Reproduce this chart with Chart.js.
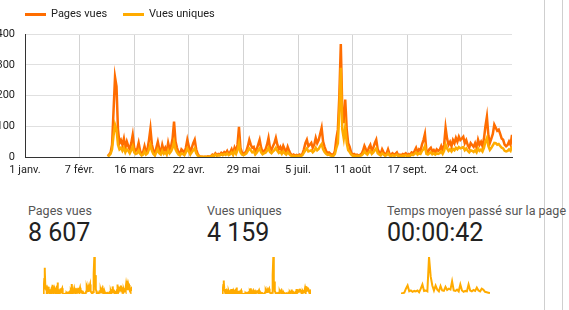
<!DOCTYPE html>
<html lang="fr">
<head>
<meta charset="utf-8">
<script src="https://cdn.jsdelivr.net/npm/chart.js@4.4.1/dist/chart.umd.min.js"></script>
<style>
  body { margin: 0; width: 569px; height: 310px; background: #fff; font-family: Roboto, sans-serif; overflow: hidden; position: relative; }
  .vline { position: absolute; top: 0; width: 1px; height: 310px; background: #cfcfcf; }
  #main { position: absolute; left: -10px; top: 0; width: 532px; height: 185px; }
  .legend { position: absolute; top: 7px; font-size: 11px; color: #212121; line-height: 14px; }
  .legend span.sw { position: absolute; top: 6px; width: 21px; height: 3px; }
  .stat { position: absolute; top: 203px; }
  .stat .lbl { font-size: 12.5px; line-height: 15px; color: #555; white-space: nowrap; }
  .stat .val { font-size: 25px; line-height: 29px; color: #212121; margin-top: 0px; }
  .spark { position: absolute; top: 257px; width: 89px; height: 37px; }
</style>
</head>
<body>
<div class="vline" style="left:544px"></div>
<div class="vline" style="left:562px"></div>

<div id="main"><canvas id="mainChart"></canvas></div>
<div class="legend" id="leg0" style="left:25px"></div>
<div class="legend" id="leg1" style="left:123px"></div>

<div class="stat" style="left:28px"><div class="lbl" id="l0"></div><div class="val" id="v0"></div></div>
<div class="stat" style="left:207px"><div class="lbl" id="l1"></div><div class="val" id="v1"></div></div>
<div class="stat" style="left:387px"><div class="lbl" id="l2"></div><div class="val" id="v2"></div></div>

<div class="spark" style="left:43px"><canvas id="spark0"></canvas></div>
<div class="spark" style="left:222px"><canvas id="spark1"></canvas></div>
<div class="spark" style="left:401px"><canvas id="spark2"></canvas></div>

<script>
// data
const seriesNames = ['Pages vues', 'Vues uniques'];
const seriesColors = ['#ff6d00', '#ffab00'];
const tickDays = [0, 37, 74, 111, 148, 185, 222, 259, 296];
const tickLabels = ['1 janv.', '7 févr.', '16 mars', '22 avr.', '29 mai', '5 juil.', '11 août', '17 sept.', '24 oct.'];
const firstDay = 56;   // jour de l'année du premier point
const lastDay = 330;

const pagesVues = [
  3, 8, 15, 40, 150, 260, 230, 90, 45, 55,
  40, 60, 30, 50, 35, 25, 45, 72, 30, 20,
  25, 46, 20, 10, 15, 35, 15, 25, 55, 92,
  40, 20, 10, 30, 49, 25, 15, 39, 20, 30,
  15, 46, 25, 35, 60, 115, 50, 30, 15, 10,
  25, 20, 12, 30, 56, 35, 15, 30, 45, 56,
  25, 10, 3, 1, 1, 0, 1, 0, 2, 1,
  3, 8, 5, 12, 6, 10, 8, 14, 10, 16,
  12, 20, 10, 15, 25, 12, 30, 18, 40, 98,
  30, 15, 10, 13, 20, 35, 56, 40, 30, 33,
  15, 25, 40, 56, 30, 16, 20, 25, 40, 62,
  30, 23, 35, 45, 62, 40, 25, 33, 20, 36,
  25, 15, 33, 20, 10, 5, 8, 4, 7, 5,
  8, 5, 10, 25, 45, 56, 35, 40, 46, 30,
  40, 62, 45, 55, 75, 95, 50, 33, 20, 13,
  15, 10, 8, 7, 20, 60, 89, 200, 367, 150,
  110, 187, 90, 45, 33, 15, 7, 10, 6, 8,
  5, 7, 10, 20, 36, 25, 15, 30, 39, 20,
  30, 45, 56, 25, 15, 10, 25, 15, 8, 12,
  25, 10, 6, 12, 8, 10, 15, 5, 8, 6,
  10, 8, 12, 6, 10, 8, 15, 12, 20, 30,
  15, 25, 20, 40, 55, 75, 20, 16, 25, 30,
  18, 23, 15, 25, 20, 23, 35, 20, 40, 95,
  60, 40, 49, 35, 55, 45, 62, 50, 66, 55,
  60, 66, 45, 55, 39, 30, 45, 39, 33, 45,
  30, 56, 40, 49, 35, 60, 100, 131, 70, 46,
  60, 75, 105, 95, 85, 89, 75, 60, 56, 40,
  35, 39, 50, 40, 72
];

const vuesUniques = [
  2, 5, 10, 25, 70, 105, 90, 40, 25, 30,
  20, 30, 15, 25, 20, 12, 22, 35, 15, 10,
  12, 22, 10, 5, 8, 18, 8, 12, 25, 40,
  20, 10, 5, 15, 25, 12, 8, 20, 10, 15,
  8, 22, 12, 18, 30, 50, 25, 15, 8, 5,
  12, 10, 6, 15, 28, 18, 8, 15, 22, 28,
  12, 5, 2, 1, 1, 0, 1, 0, 1, 1,
  2, 5, 3, 8, 4, 6, 5, 9, 6, 10,
  7, 12, 6, 9, 15, 7, 18, 10, 22, 45,
  15, 8, 6, 8, 12, 20, 28, 22, 15, 18,
  8, 14, 22, 28, 15, 9, 12, 14, 20, 30,
  16, 12, 18, 22, 30, 20, 13, 17, 10, 18,
  12, 8, 16, 10, 5, 3, 4, 2, 4, 3,
  4, 3, 6, 14, 22, 28, 18, 20, 22, 15,
  20, 30, 22, 26, 35, 42, 25, 16, 10, 7,
  8, 5, 4, 4, 10, 30, 45, 150, 290, 90,
  60, 98, 45, 22, 16, 8, 4, 5, 3, 4,
  3, 4, 5, 10, 18, 12, 8, 15, 20, 10,
  15, 22, 28, 12, 8, 5, 12, 8, 4, 6,
  12, 5, 3, 6, 4, 5, 8, 3, 4, 3,
  5, 4, 6, 3, 5, 4, 8, 6, 10, 15,
  8, 12, 10, 20, 25, 35, 10, 8, 12, 15,
  9, 12, 8, 12, 10, 12, 18, 10, 20, 40,
  28, 20, 25, 18, 26, 22, 30, 25, 32, 28,
  30, 32, 22, 28, 20, 15, 22, 20, 16, 22,
  15, 28, 20, 24, 18, 30, 50, 62, 35, 23,
  30, 38, 46, 45, 40, 42, 36, 30, 28, 20,
  18, 20, 25, 20, 35
];

// temps moyen (secondes), echantillon plus grossier
const tempsMoyen = [
  5, 10, 15, 60, 96, 30, 40, 25, 35, 30,
  40, 20, 60, 108, 35, 40, 30, 420, 200, 96,
  40, 96, 50, 30, 90, 40, 35, 80, 45, 60,
  50, 144, 40, 35, 50, 30, 108, 40, 25, 35,
  30, 108, 40, 30, 45, 35, 72, 40, 30, 60,
  48, 25, 20, 15, 10
];

const statLabels = ['Pages vues', 'Vues uniques', 'Temps moyen passé sur la page'];
const statValues = ['8 607', '4 159', '00:00:42'];

// texts
seriesNames.forEach((n, i) => {
  document.getElementById('leg' + i).innerHTML =
    '<span class="sw" style="left:0;background:' + seriesColors[i] + '"></span>' +
    '<span style="margin-left:26px">' + n + '</span>';
});
statLabels.forEach((t, i) => {
  document.getElementById('l' + i).textContent = t;
  document.getElementById('v' + i).textContent = statValues[i];
});

Chart.defaults.font.family = 'Roboto, sans-serif';
Chart.defaults.font.size = 11;
Chart.defaults.color = '#222';
Chart.defaults.animation = false;

function toPoints(arr) {
  return arr.map((v, i) => ({ x: firstDay + i, y: v }));
}

// main chart
const ctx = document.getElementById('mainChart').getContext('2d');
const mainChart = new Chart(ctx, {
  type: 'line',
  data: {
    datasets: [{
      label: seriesNames[0],
      data: toPoints(pagesVues),
      borderColor: seriesColors[0],
      borderWidth: 2.5,
      pointRadius: 0,
      order: 1,
    }, {
      label: seriesNames[1],
      data: toPoints(vuesUniques),
      borderColor: seriesColors[1],
      borderWidth: 2.5,
      pointRadius: 0,
      order: 0,
    }]
  },
  options: {
    responsive: true,
    maintainAspectRatio: false,
    events: [],
    layout: { padding: { top: 34, bottom: 8, right: 10, left: 0 } },
    plugins: { legend: { display: false }, tooltip: { enabled: false } },
    scales: {
      x: {
        type: 'linear',
        min: 0,
        max: lastDay,
        afterBuildTicks: (s) => { s.ticks = tickDays.map(v => ({ value: v })); },
        afterFit: (s) => { s.height = 20; },
        ticks: {
          autoSkip: false,
          maxRotation: 0,
          padding: 7,
          callback: (v, i) => tickLabels[i],
        },
        grid: { color: '#d3d3d3', drawTicks: false },
        border: { color: '#333', width: 1 },
      },
      y: {
        min: 0,
        max: 400,
        afterFit: (s) => { s.width = 35; },
        ticks: {
          stepSize: 50,
          padding: 10,
          callback: (v) => (v % 100 === 0 ? v : ''),
        },
        grid: { color: '#e0e0e0', drawTicks: false },
        border: { color: '#333', width: 1 },
      }
    }
  }
});

// sparklines
function spark(id, values) {
  new Chart(document.getElementById(id).getContext('2d'), {
    type: 'line',
    data: {
      labels: values.map((v, i) => i),
      datasets: [{ data: values, borderColor: '#ffab00', borderWidth: 2, pointRadius: 0 }]
    },
    options: {
      responsive: true,
      maintainAspectRatio: false,
      events: [],
      layout: { padding: 0 },
      plugins: { legend: { display: false }, tooltip: { enabled: false } },
      scales: {
        x: { display: false },
        y: { display: false, min: 0, max: Math.max(...values) }
      }
    }
  });
}
spark('spark0', pagesVues);
spark('spark1', vuesUniques);
spark('spark2', tempsMoyen);
</script>
</body>
</html>
